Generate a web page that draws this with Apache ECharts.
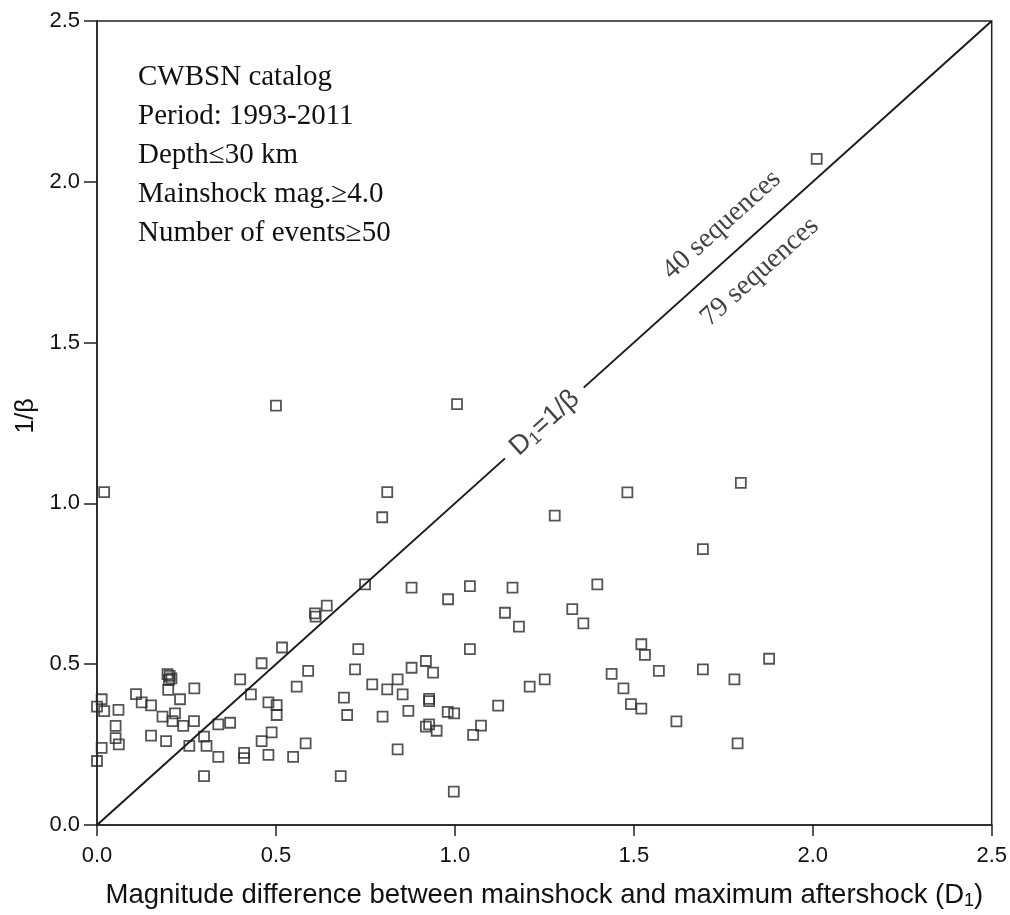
<!DOCTYPE html>
<html>
<head>
<meta charset="utf-8">
<script src="https://cdn.jsdelivr.net/npm/echarts@6/dist/echarts.min.js"></script>
<style>
  html, body { margin: 0; padding: 0; background: #fff; }
  #main { width: 1010px; height: 915px; }
</style>
</head>
<body>
<div id="main"></div>
<script>
// D1 (magnitude difference) and 1/beta for each aftershock sequence
var d1 = [
    0.517, 0.46, 0.59, 0.197, 0.203, 0.208, 0.201, 0.199, 0.40, 0.558,
    0.272, 0.013, 0.232, 0.109, 0.43, 0.125, 0.151, 0.0, 0.02, 0.06,
    0.479, 0.502, 0.502, 0.183, 0.218, 0.211, 0.241, 0.271, 0.339, 0.372,
    0.052, 0.052, 0.061, 0.151, 0.193, 0.013, 0.299, 0.306, 0.258, 0.339,
    0.411, 0.411, 0.46, 0.488, 0.479, 0.548, 0.583, 0.0, 0.299,
    0.749, 0.879, 1.042, 1.161, 0.981, 0.642, 0.609, 0.611, 1.14, 1.179,
    0.73, 1.042, 0.721, 0.919, 0.879, 0.939, 0.84, 0.769, 0.811, 0.854,
    1.209, 0.69, 0.928, 0.928, 0.699, 0.798, 0.87, 0.98, 0.998, 1.121,
    0.919, 0.928, 0.949, 1.073, 1.051, 0.84, 0.681, 0.997,
    1.398, 1.328, 1.359, 1.521, 1.531, 1.57, 1.693, 1.781, 1.438, 1.471,
    1.492, 1.521, 1.251, 1.619, 1.79, 1.878,
    0.5, 1.006, 0.02, 0.811, 0.797, 1.279, 1.799, 1.482, 1.693, 2.011
];
var invBeta = [
    0.552, 0.503, 0.479, 0.469, 0.464, 0.456, 0.451, 0.42, 0.453, 0.43,
    0.425, 0.391, 0.391, 0.407, 0.406, 0.381, 0.372, 0.368, 0.354, 0.358,
    0.381, 0.373, 0.342, 0.337, 0.347, 0.323, 0.308, 0.323, 0.313, 0.318,
    0.308, 0.27, 0.251, 0.278, 0.261, 0.24, 0.275, 0.246, 0.246, 0.212,
    0.224, 0.208, 0.261, 0.288, 0.218, 0.212, 0.254, 0.199, 0.152,
    0.748, 0.738, 0.743, 0.738, 0.702, 0.682, 0.658, 0.648, 0.66, 0.617,
    0.547, 0.547, 0.484, 0.51, 0.489, 0.474, 0.453, 0.437, 0.422, 0.406,
    0.43, 0.396, 0.392, 0.385, 0.342, 0.337, 0.355, 0.352, 0.347, 0.371,
    0.306, 0.313, 0.293, 0.309, 0.28, 0.235, 0.152, 0.104,
    0.748, 0.671, 0.627, 0.562, 0.529, 0.479, 0.484, 0.453, 0.47, 0.425,
    0.376, 0.362, 0.453, 0.322, 0.254, 0.517,
    1.304, 1.309, 1.035, 1.035, 0.957, 0.962, 1.064, 1.034, 0.858, 2.071
];

// reference line D1 = 1/beta, broken where its label sits
var refLineLow = [[0, 0], [1.14, 1.14]];
var refLineHigh = [[1.36, 1.36], [2.5, 2.5]];

var infoLines = [
    'CWBSN catalog',
    'Period: 1993-2011',
    'Depth\u226430 km',
    'Mainshock mag.\u22654.0',
    'Number of events\u226550'
];

var myChart = echarts.init(document.getElementById('main'));

var points = [];
for (var i = 0; i < d1.length; i++) {
    points.push([d1[i], invBeta[i]]);
}

var serifFont = '"Liberation Serif", "Times New Roman", serif';
var sansFont = '"Liberation Sans", Arial, sans-serif';

option = {
    backgroundColor: '#fff',
    animation: false,
    grid: {
        left: 97,
        right: 18,
        top: 21,
        bottom: 90,
        show: true,
        borderColor: '#222',
        borderWidth: 1.5
    },
    graphic: [{
        type: 'text',
        left: 138,
        top: 58,
        style: {
            text: infoLines.join('\n'),
            font: '29px ' + serifFont,
            lineHeight: 39,
            fill: '#111'
        }
    }],
    xAxis: {
        type: 'value',
        min: 0,
        max: 2.5,
        interval: 0.5,
        name: 'Magnitude difference between mainshock and maximum aftershock (D{s|1})',
        nameLocation: 'middle',
        nameGap: 56,
        nameTextStyle: {
            fontFamily: sansFont,
            fontSize: 27.5,
            color: '#111',
            rich: {
                s: {
                    fontFamily: sansFont,
                    fontSize: 18,
                    color: '#111',
                    padding: [11, 0, 0, 0]
                }
            }
        },
        axisLine: { lineStyle: { color: '#222', width: 1.5 } },
        axisTick: { show: true, inside: false, length: 11, lineStyle: { color: '#222', width: 1.5 } },
        axisLabel: {
            margin: 20,
            fontFamily: sansFont,
            fontSize: 22,
            color: '#111',
            formatter: function (v) { return v.toFixed(1); }
        },
        splitLine: { show: false }
    },
    yAxis: {
        type: 'value',
        min: 0,
        max: 2.5,
        interval: 0.5,
        name: '1/\u03b2',
        nameLocation: 'middle',
        nameGap: 58,
        nameTextStyle: {
            fontFamily: sansFont,
            fontSize: 25,
            color: '#111',
            padding: [0, 0, 0, 14]
        },
        axisLine: { lineStyle: { color: '#222', width: 1.5 } },
        axisTick: { show: true, inside: false, length: 13, lineStyle: { color: '#222', width: 1.5 } },
        axisLabel: {
            margin: 17,
            fontFamily: sansFont,
            fontSize: 22,
            color: '#111',
            formatter: function (v) { return v.toFixed(1); }
        },
        splitLine: { show: false }
    },
    series: [{
        type: 'line',
        data: refLineLow,
        symbol: 'none',
        silent: true,
        lineStyle: { color: '#1a1a1a', width: 2 }
    }, {
        type: 'line',
        data: refLineHigh,
        symbol: 'none',
        silent: true,
        lineStyle: { color: '#1a1a1a', width: 2 }
    }, {
        name: 'sequences',
        type: 'scatter',
        clip: false,
        symbol: 'rect',
        symbolSize: 10,
        data: points,
        itemStyle: {
            color: 'rgba(0,0,0,0)',
            borderColor: '#2a2a2a',
            borderWidth: 1.8
        }
    }, {
        // text annotations along the reference line
        type: 'scatter',
        symbolSize: 0,
        silent: true,
        clip: false,
        label: {
            show: true,
            position: 'inside',
            rotate: 42,
            color: '#111'
        },
        data: [{
            value: [1.251, 1.25],
            label: {
                formatter: '{a|D}{s|1}{a|=1/\u03b2}',
                rich: {
                    a: { fontFamily: sansFont, fontSize: 27, color: '#111' },
                    s: { fontFamily: sansFont, fontSize: 18, color: '#111', padding: [11, 0, 0, 0] }
                }
            }
        }, {
            value: [1.746, 1.866],
            label: { formatter: '40 sequences', fontFamily: serifFont, fontSize: 28 }
        }, {
            value: [1.852, 1.72],
            label: { formatter: '79 sequences', fontFamily: serifFont, fontSize: 28 }
        }]
    }]
};
myChart.setOption(option);
</script>
</body>
</html>
